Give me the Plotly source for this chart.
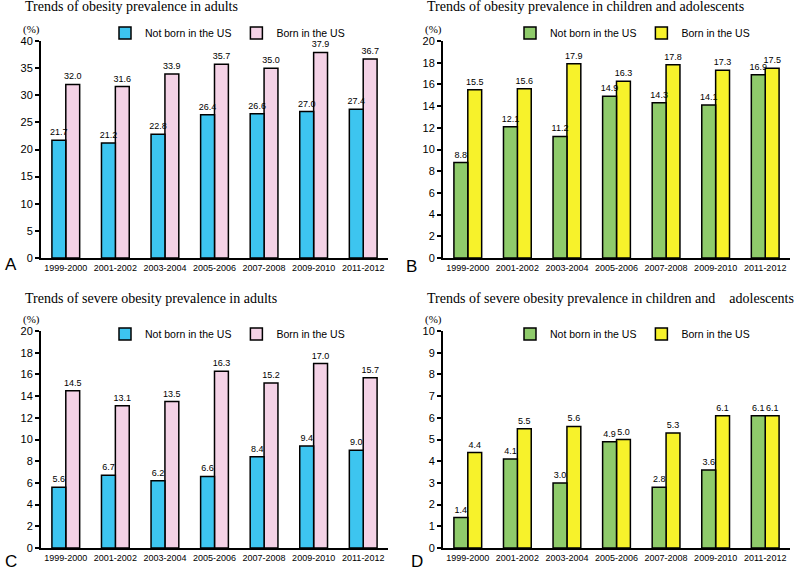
import plotly.graph_objects as go

# Survey periods (x categories)
periods = ["1999-2000", "2001-2002", "2003-2004", "2005-2006",
           "2007-2008", "2009-2010", "2011-2012"]

# A: obesity in adults
adult_not_us = [21.7, 21.2, 22.8, 26.4, 26.6, 27.0, 27.4]
adult_us = [32.0, 31.6, 33.9, 35.7, 35.0, 37.9, 36.7]
# B: obesity in children and adolescents
child_not_us = [8.8, 12.1, 11.2, 14.9, 14.3, 14.1, 16.9]
child_us = [15.5, 15.6, 17.9, 16.3, 17.8, 17.3, 17.5]
# C: severe obesity in adults
sev_adult_not_us = [5.6, 6.7, 6.2, 6.6, 8.4, 9.4, 9.0]
sev_adult_us = [14.5, 13.1, 13.5, 16.3, 15.2, 17.0, 15.7]
# D: severe obesity in children and adolescents
sev_child_not_us = [1.4, 4.1, 3.0, 4.9, 2.8, 3.6, 6.1]
sev_child_us = [4.4, 5.5, 5.6, 5.0, 5.3, 6.1, 6.1]

W, H = 800, 572
BLUE, PINK = "#3DC5F0", "#F4D2E6"
GREEN, YELLOW = "#8FCB6B", "#F7F22B"
SANS = "Liberation Sans"
SERIF = "Liberation Serif"
BAR_W = 0.28


# positions below are given in pixels from the top-left corner
def px_x(v):
    return v / W


def px_y(v):
    return 1 - v / H


gap = "\u00a0" * 4
panels = [
    # suffix, not-US, US, colours, y max, dtick, x px range, y px range, legend x/y,
    # title y, title, letter x/y
    ("", adult_not_us, adult_us, BLUE, PINK, 40, 5, (41, 388), (41, 258), (105, 33),
     7, "Trends of obesity prevalence in adults", "A", (3, 264)),
    ("2", child_not_us, child_us, GREEN, YELLOW, 20, 2, (443, 790), (41, 258), (510, 33),
     7, "Trends of obesity prevalence in children and adolescents", "B", (404, 266)),
    ("3", sev_adult_not_us, sev_adult_us, BLUE, PINK, 20, 2, (41, 388), (331, 548), (105, 334),
     298, "Trends of severe obesity prevalence in adults", "C", (3, 561)),
    ("4", sev_child_not_us, sev_child_us, GREEN, YELLOW, 10, 1, (443, 790), (331, 548), (510, 334),
     298, "Trends of severe obesity prevalence in children and" + gap + "adolescents", "D", (409, 561)),
]

fig = go.Figure()
annotations = []
layout = {}

for (sfx, not_us, us, c1, c2, ymax, dtick, (x0, x1), (y0, y1), (lx, ly),
     ty, title, letter, (kx, ky)) in panels:
    leg = "legend" + sfx
    # "Born" drawn first so the left bar's value label sits on top of it
    for name, vals, col, off in [("Born in the US", us, c2, 0.0),
                                 ("Not born in the US", not_us, c1, -BAR_W)]:
        fig.add_trace(go.Bar(
            x=periods, y=vals, name=name, legend=leg,
            xaxis="x" + sfx, yaxis="y" + sfx,
            width=BAR_W, offset=off,
            marker=dict(color=col, line=dict(color="black", width=1.5)),
            texttemplate="%{y:.1f}", textposition="outside",
            textfont=dict(family=SANS, size=9, color="black"),
            constraintext="none", cliponaxis=False,
        ))

    layout["xaxis" + sfx] = dict(
        domain=[px_x(x0), px_x(x1)], anchor="y" + sfx,
        range=[-0.5, 6.5], automargin=False,
        showline=True, linecolor="black", linewidth=2, ticks="",
        tickangle=0, tickfont=dict(family=SANS, size=9, color="black"),
        showgrid=False,
    )
    layout["yaxis" + sfx] = dict(
        domain=[px_y(y1), px_y(y0)], anchor="x" + sfx,
        range=[0, ymax], dtick=dtick, automargin=False,
        showline=True, linecolor="black", linewidth=2,
        ticks="outside", ticklen=4, tickwidth=2, tickcolor="black",
        tickfont=dict(family=SANS, size=11, color="black"),
        showgrid=False, zeroline=False,
    )
    layout[leg] = dict(
        orientation="h", x=px_x(lx), y=px_y(ly),
        xanchor="left", yanchor="middle",
        font=dict(family=SANS, size=10.5, color="black"),
        bgcolor="rgba(0,0,0,0)", traceorder="reversed",
    )

    # panel title, "(%)" unit and panel letter
    annotations.append(dict(
        text=title, x=px_x(x0 - 18), y=px_y(ty), xref="paper", yref="paper",
        xanchor="left", yanchor="middle", showarrow=False,
        font=dict(family=SERIF, size=14, color="black"),
    ))
    annotations.append(dict(
        text="(%)", x=px_x(x0 - 10), y=px_y(y0 - 12), xref="paper", yref="paper",
        xanchor="center", yanchor="middle", showarrow=False,
        font=dict(family=SERIF, size=11, color="black"),
    ))
    annotations.append(dict(
        text=letter, x=px_x(kx), y=px_y(ky), xref="paper", yref="paper",
        xanchor="left", yanchor="middle", showarrow=False,
        font=dict(family=SANS, size=17, color="black"),
    ))

fig.update_layout(
    width=W, height=H,
    margin=dict(l=0, r=0, t=0, b=0),
    paper_bgcolor="white", plot_bgcolor="white",
    barmode="overlay",
    annotations=annotations,
    **layout,
)

# drop the browser's default 8px page margin so the figure fills the window
fig.write_html("out.html", config={"displayModeBar": False},
               post_script="document.body.style.margin = '0';")
